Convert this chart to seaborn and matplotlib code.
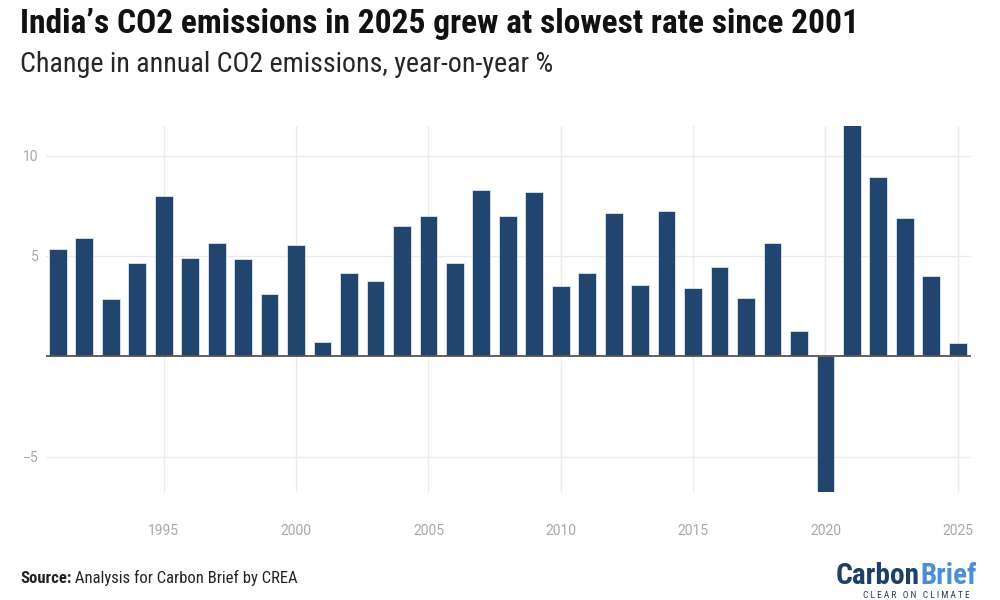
import matplotlib.pyplot as plt
import numpy as np
import pandas as pd
import seaborn as sns

years = list(range(1991, 2026))
change_pct = [5.34, 5.92, 2.86, 4.65, 8.01, 4.91, 5.67, 4.83, 3.10, 5.57,
              0.70, 4.15, 3.73, 6.50, 7.01, 4.66, 8.29, 7.00, 8.18, 3.48,
              4.16, 7.15, 3.53, 7.25, 3.40, 4.43, 2.92, 5.64, 1.26, -6.77,
              11.53, 8.94, 6.90, 3.98, 0.65]
x_ticks = [1995, 2000, 2005, 2010, 2015, 2020, 2025]
y_ticks = [-5, 5, 10]
y_tick_labels = ["\u22125", "5", "10"]

title = "India\u2019s CO2 emissions in 2025 grew at slowest rate since 2001"
subtitle = "Change in annual CO2 emissions, year-on-year %"
source_label = "Source:"
source_text = " Analysis for Carbon Brief by CREA"

df = pd.DataFrame({"year": years, "change": change_pct})

sns.set_theme(style="white")
plt.rcParams['font.family'] = ['Roboto', 'DejaVu Sans']
cond = ['Roboto Condensed', 'DejaVu Sans']

fig = plt.figure(figsize=(10, 6), dpi=100)
ax = fig.add_axes([0.0457, 0.18, 0.925, 0.61])

# light grid under the bars
for xt in x_ticks:
    ax.axvline(xt, color='#ebebeb', lw=1, zorder=0)
for yt in y_ticks:
    ax.axhline(yt, color='#ebebeb', lw=1, zorder=0)

sns.barplot(data=df, x="year", y="change", native_scale=True, color='#22456f',
            saturation=1, width=0.67, edgecolor='#dfe6ee', linewidth=0.6,
            zorder=2, ax=ax)
ax.axhline(0, color='#555555', lw=1.3, zorder=3)

ax.set_xlim(1990.54, 2025.49)
ax.set_ylim(-6.77, 11.48)
ax.set_xticks(x_ticks)
ax.set_yticks(y_ticks)
ax.set_yticklabels(y_tick_labels)
ax.tick_params(axis='both', length=0, labelsize=10, labelcolor='#a8a8a8')
ax.tick_params(axis='x', pad=23)
ax.tick_params(axis='y', pad=5)
ax.set_xlabel("")
ax.set_ylabel("")
sns.despine(ax=ax, left=True, bottom=True)

renderer = fig.canvas.get_renderer()

def fit_text(x, y, s, width_px, size, **kw):
    # scale font so the text spans the width seen in the reference
    t = fig.text(x, y, s, fontsize=size, **kw)
    w = t.get_window_extent(renderer).width
    t.set_fontsize(size * width_px / w)
    return t

fit_text(0.02, 0.945, title, 840, 25, fontweight='bold', family=cond,
         color='#111111', va='baseline')
fit_text(0.02, 0.88, subtitle, 535, 16, family=cond, color='#262626',
         va='baseline')

t1 = fig.text(0.02, 0.028, source_label, fontsize=12, fontweight='bold',
              family=cond, color='#222222', va='baseline')
x_end = t1.get_window_extent(renderer).x1 / fig.bbox.width
fig.text(x_end, 0.028, source_text, fontsize=12, family=cond,
         color='#222222', va='baseline')

# Carbon Brief logo as text
c1 = fit_text(0.836, 0.026, "Carbon", 84, 22, fontweight='black', family=cond,
              color='#1f3f66', va='baseline')
x_end = c1.get_window_extent(renderer).x1 / fig.bbox.width
fit_text(x_end, 0.026, "Brief", 56, 22, fontweight='black', family=cond,
         color='#4a8fd6', va='baseline')
fit_text(0.863, 0.003, "C L E A R   O N   C L I M A T E", 105, 4, family=cond,
         color='#1f3f66', va='baseline')

fig.savefig("out.png", dpi=100)
